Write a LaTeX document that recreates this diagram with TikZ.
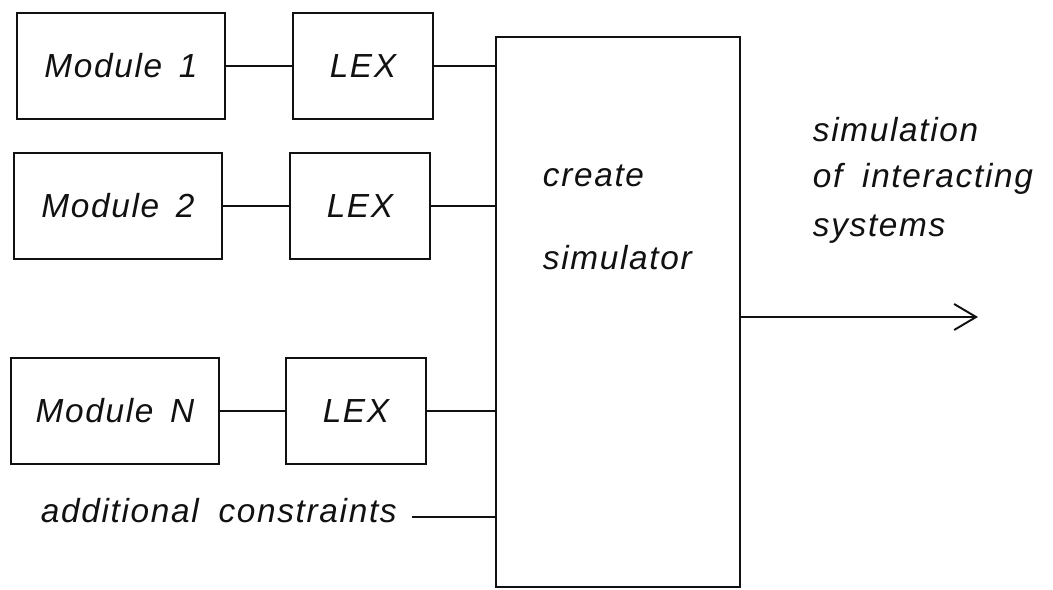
\documentclass[tikz,border=0pt]{standalone}
\usepackage{fontspec}
\usepackage{xcolor}
\usepackage{tikz}
\usetikzlibrary{arrows.meta,calc}
\newfontfamily\plotter{Liberation Sans}[LetterSpace=5,WordSpace=1.8]
\definecolor{tinta}{HTML}{111111}

\begin{document}
\begin{tikzpicture}[x=0.02cm,y=-0.02cm,line width=1.1pt,
    txt/.style={font=\plotter\itshape\fontsize{19}{23}\selectfont,text=tinta,inner sep=0pt},
    modbox/.style={draw=tinta,txt,minimum width=4.16cm,minimum height=2.12cm},
    lexbox/.style={draw=tinta,txt,minimum width=2.8cm,minimum height=2.12cm},
    >={Straight Barb[length=0.44cm,width=0.52cm]}]
  \useasboundingbox (0,0) rectangle (1053,590);

  \node[modbox] (m1) at (121,66)  {Module\enspace 1};
  \node[modbox] (m2) at (118,206) {Module\enspace 2};
  \node[modbox] (mN) at (115,411) {Module\enspace N};

  \node[lexbox] (l1) at (363,66)  {LEX};
  \node[lexbox] (l2) at (360,206) {LEX};
  \node[lexbox] (lN) at (356,411) {LEX};

  \node[draw=tinta,minimum width=4.88cm,minimum height=11cm] (sim) at (618,312) {};
  \node[txt,anchor=base west] (cre) at (542,187) {create};
  \node[txt,anchor=base west] (simu) at (542,270) {simulator};

  \node[txt,anchor=base west] (ac) at (40,522) {additional constraints};

  \foreach \t/\y [count=\i] in {simulation/142,of interacting/188,systems/237}
    \node[txt,anchor=base west] (out\i) at (812,\y) {\t};

  \foreach \r in {1,2,N}{
    \draw[tinta] (m\r) -- (l\r);
    \draw[tinta] (l\r.east) -- (l\r.east -| sim.west);
  }
  \draw[tinta] ([xshift=0.28cm,yshift=0.1cm]ac.base east)
    -- ([yshift=0.1cm]ac.base east -| sim.west);

  \coordinate (tip) at (978,317);
  \draw[->,tinta] (sim.east |- tip) -- (tip);
\end{tikzpicture}
\end{document}
